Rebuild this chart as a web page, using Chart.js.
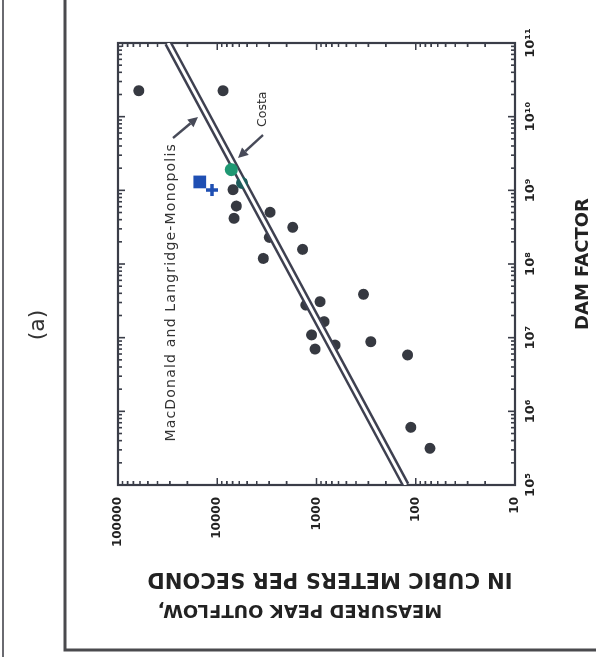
<!DOCTYPE html>
<html><head><meta charset="utf-8">
<script src="https://cdn.jsdelivr.net/npm/chart.js@4.4.0/dist/chart.umd.min.js"></script>
<style>
html,body{margin:0;padding:0;background:#fff;overflow:hidden;width:596px;height:664px}
#wrap{position:absolute;left:0;top:0;width:664px;height:596px;transform-origin:0 0;transform:translate(0px,664px) rotate(-90deg);background:#fff}
canvas{display:block}
</style></head><body>
<div id="wrap"><canvas id="c" width="664" height="596"></canvas></div>
<script>
// Axis ticks
const damFactorTicks = [1e5, 1e6, 1e7, 1e8, 1e9, 1e10, 1e11];
const damFactorTickLabels = ['10⁵', '10⁶', '10⁷', '10⁸', '10⁹', '10¹⁰', '10¹¹'];
const outflowTicks = [10, 100, 1000, 10000, 100000];
const outflowTickLabels = ['10', '100', '1000', '10000', '100000'];

// Dam failures (black dots)
const damFactor   = [2.25e10, 2.25e10, 1.02e9, 6.12e8, 4.17e8, 5.04e8, 3.15e8, 2.30e8, 1.58e8, 1.19e8,
                     3.88e7, 3.08e7, 2.77e7, 1.65e7, 1.09e7, 7.0e6, 7.94e6, 8.81e6, 5.82e6, 6.07e5, 3.15e5];
const peakOutflow = [61800, 8750, 6940, 6430, 6780, 2940, 1740, 2990, 1380, 3440,
                     337, 922, 1280, 840, 1120, 1035, 651, 284, 121, 112, 72];
// Dark teal point
const tealDF = [1.26e9];
const tealQ  = [5630];
// Costa
const costaDF = [1.91e9];
const costaQ  = [7220];
// Blue markers
const blueSquareDF = [1.3e9];
const blueSquareQ  = [15000];
const bluePlusDF = [1.01e9];
const bluePlusQ  = [11300];
// MacDonald and Langridge-Monopolis relation (read end points)
const relationDF = [1e5, 1e11];
const relationQ  = [126, 31300];

// Annotations
const noteText = ['MacDonald and Langridge-Monopolis', 'Costa'];
const noteDF = [4.39e9, 7.24e9];
const noteQ  = [29200, 3500];
const noteAlign = ['right', 'left'];
const arrowFromDF = [5.13e9, 5.64e9];
const arrowFromQ  = [27900, 3460];
const arrowToDF   = [9.9e9, 2.75e9];
const arrowToQ    = [15630, 6180];

const yTitle = ['MEASURED PEAK OUTFLOW,', 'IN CUBIC METERS PER SECOND'];
const xTitle = 'DAM FACTOR';
const panelLabel = '(a)';

const pts = (xs, ys) => xs.map((x, i) => ({x, y: ys[i]}));

const deco = {
  id: 'deco',
  beforeDatasetsDraw(chart) {
    const {ctx, chartArea: a, scales: {x, y}} = chart;
    ctx.save();
    ctx.strokeStyle = '#3a3d48';
    ctx.lineWidth = 1.6;
    for (let k = 5; k <= 10; k++) {
      for (let m = 1; m <= 9; m++) {
        const px = x.getPixelForValue(m * Math.pow(10, k));
        const len = m === 1 ? 7 : 4;
        ctx.beginPath();
        ctx.moveTo(px, a.bottom); ctx.lineTo(px, a.bottom - len);
        ctx.moveTo(px, a.top); ctx.lineTo(px, a.top + len);
        ctx.stroke();
      }
    }
    for (let k = 1; k <= 4; k++) {
      for (let m = 1; m <= 9; m++) {
        const py = y.getPixelForValue(m * Math.pow(10, k));
        const len = m === 1 ? 7 : 4;
        ctx.beginPath();
        ctx.moveTo(a.left, py); ctx.lineTo(a.left + len, py);
        ctx.moveTo(a.right, py); ctx.lineTo(a.right - len, py);
        ctx.stroke();
      }
    }
    ctx.lineWidth = 2.2;
    ctx.strokeRect(a.left, a.top, a.right - a.left, a.bottom - a.top);
    ctx.restore();
  },
  afterDraw(chart) {
    const {ctx, scales: {x, y}} = chart;
    ctx.save();
    ctx.strokeStyle = '#4a4a4e';
    ctx.lineWidth = 3;
    ctx.beginPath();
    ctx.moveTo(664, 65); ctx.lineTo(14, 65); ctx.lineTo(14, 596);
    ctx.stroke();
    ctx.strokeStyle = '#6a6a70';
    ctx.lineWidth = 2;
    ctx.beginPath();
    ctx.moveTo(664, 3); ctx.lineTo(7, 3);
    ctx.stroke();
    ctx.fillStyle = '#333';
    ctx.font = '22px "DejaVu Sans"';
    ctx.textAlign = 'center'; ctx.textBaseline = 'middle';
    ctx.fillText(panelLabel, 339, 38);
    ctx.fillStyle = '#222';
    ctx.save();
    ctx.translate(54.5, 300); ctx.rotate(-Math.PI / 2);
    ctx.font = 'bold 18px "DejaVu Sans"';
    ctx.fillText(yTitle[0], 0, 0);
    ctx.restore();
    ctx.save();
    ctx.translate(85.5, 330); ctx.rotate(-Math.PI / 2);
    ctx.font = 'bold 21px "DejaVu Sans"';
    ctx.fillText(yTitle[1], 0, 0);
    ctx.restore();
    ctx.fillStyle = '#333';
    ctx.font = '14px "DejaVu Sans"';
    ctx.letterSpacing = '1.2px';
    noteText.forEach((t, i) => {
      ctx.textAlign = noteAlign[i];
      if (i === 1) { ctx.font = '12.5px "DejaVu Sans"'; ctx.letterSpacing = '0px'; }
      ctx.fillText(t, x.getPixelForValue(noteDF[i]), y.getPixelForValue(noteQ[i]));
    });
    ctx.letterSpacing = '0px';
    ctx.strokeStyle = '#474a58';
    ctx.fillStyle = '#474a58';
    ctx.lineWidth = 2.5;
    arrowFromDF.forEach((_, i) => {
      const x0 = x.getPixelForValue(arrowFromDF[i]), y0 = y.getPixelForValue(arrowFromQ[i]);
      const x1 = x.getPixelForValue(arrowToDF[i]), y1 = y.getPixelForValue(arrowToQ[i]);
      const ang = Math.atan2(y1 - y0, x1 - x0);
      const hl = 10, hw = 5;
      const bx = x1 - hl * Math.cos(ang), by = y1 - hl * Math.sin(ang);
      ctx.beginPath(); ctx.moveTo(x0, y0); ctx.lineTo(bx, by); ctx.stroke();
      ctx.beginPath();
      ctx.moveTo(x1, y1);
      ctx.lineTo(bx + hw * Math.sin(ang), by - hw * Math.cos(ang));
      ctx.lineTo(bx - hw * Math.sin(ang), by + hw * Math.cos(ang));
      ctx.closePath(); ctx.fill();
    });
    ctx.restore();
  }
};

new Chart(document.getElementById('c'), {
  type: 'scatter',
  data: {
    datasets: [
      {label: 'Dam failures', data: pts(damFactor, peakOutflow), backgroundColor: '#363941', borderWidth: 0, pointRadius: 5.5, order: 6},
      {label: 'Relation outline', data: pts(relationDF, relationQ), showLine: true, borderColor: '#3e4050', borderWidth: 8, pointRadius: 0, order: 5},
      {label: 'Teal', data: pts(tealDF, tealQ), backgroundColor: '#1d5c5c', borderWidth: 0, pointRadius: 6, order: 4},
      {label: 'Relation inner', data: pts(relationDF, relationQ), showLine: true, borderColor: '#ffffff', borderWidth: 3, pointRadius: 0, order: 3},
      {label: 'Costa', data: pts(costaDF, costaQ), backgroundColor: '#1f9873', borderWidth: 0, pointRadius: 6.5, order: 1},
      {label: 'Blue square', data: pts(blueSquareDF, blueSquareQ), pointStyle: 'rect', backgroundColor: '#1f4fb3', borderWidth: 0, pointRadius: 9, order: 1},
      {label: 'Blue plus', data: pts(bluePlusDF, bluePlusQ), pointStyle: 'cross', borderColor: '#1f4fb3', borderWidth: 3.5, pointRadius: 6, order: 1}
    ]
  },
  options: {
    responsive: false,
    animation: false,
    events: [],
    layout: {padding: {left: 0, right: 43, top: 118, bottom: 0}},
    plugins: {legend: {display: false}, tooltip: {enabled: false}},
    scales: {
      x: {
        type: 'logarithmic', position: 'bottom', min: 1e5, max: 1e11,
        grid: {display: false, drawTicks: false}, border: {display: false},
        afterBuildTicks: s => { s.ticks = damFactorTicks.map(v => ({value: v, major: true})); },
        afterFit: s => { s.height = 81; },
        ticks: {autoSkip: false, maxRotation: 0, padding: 8, color: '#222',
          font: {family: 'DejaVu Sans', weight: 'bold', size: 13},
          callback: (v) => { const i = damFactorTicks.indexOf(v); return i >= 0 ? damFactorTickLabels[i] : ''; }},
        title: {display: true, text: xTitle, color: '#222', padding: {top: 0, bottom: 2},
          font: {family: 'DejaVu Sans', weight: 'bold', size: 18}}
      },
      y: {
        type: 'logarithmic', position: 'left', min: 10, max: 100000,
        grid: {display: false, drawTicks: false}, border: {display: false},
        afterBuildTicks: s => { s.ticks = outflowTicks.map(v => ({value: v, major: true})); },
        afterFit: s => { s.width = 179; },
        ticks: {autoSkip: false, padding: 12, color: '#222',
          font: {family: 'DejaVu Sans', weight: 'bold', size: 12},
          callback: (v) => { const i = outflowTicks.indexOf(v); return i >= 0 ? outflowTickLabels[i] : ''; }}
      }
    }
  },
  plugins: [deco]
});
</script>
</body></html>
